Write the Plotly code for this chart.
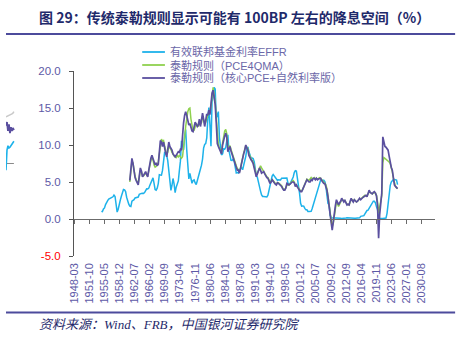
import pandas as pd
import plotly.graph_objects as go

# ---------------- data (quarterly, %) ----------------
EFFR_START = "1954Q3"
effr = [
    1.03, 0.99,
    1.35, 1.50, 1.94, 2.36,
    2.48, 2.69, 2.81, 2.93,
    2.93, 3.00, 3.24, 3.05,
    1.86, 0.94, 1.32, 2.16,
    2.57, 3.08, 3.58, 3.99,
    3.93, 3.70, 2.94, 2.30,
    2.00, 1.73, 1.68, 2.40,
    2.46, 2.61, 2.85, 2.92,
    2.97, 2.96, 3.33, 3.45,
    3.46, 3.49, 3.46, 3.58,
    3.97, 4.08, 4.07, 4.17,
    4.56, 4.91, 5.41, 5.56,
    4.82, 3.99, 3.89, 4.17,
    4.79, 5.98, 5.94, 5.92,
    6.57, 8.33, 8.98, 8.94,
    8.57, 7.88, 6.70, 5.57,
    3.86, 4.56, 5.47, 4.75,
    3.55, 4.30, 4.74, 5.14,
    6.54, 7.82, 10.56, 10.00,
    9.32, 11.25, 12.09, 9.35,
    6.30, 5.42, 6.16, 5.41,
    4.83, 5.20, 5.28, 4.87,
    4.66, 5.16, 5.82, 6.51,
    6.76, 7.28, 8.10, 9.58,
    10.07, 10.18, 10.95, 13.58,
    15.05, 12.69, 9.84, 15.85,
    16.57, 17.78, 17.58, 13.59,
    14.23, 14.51, 11.01, 9.29,
    8.65, 8.80, 9.46, 9.43,
    9.69, 10.56, 11.39, 9.27,
    8.48, 7.92, 7.90, 8.10,
    7.83, 6.92, 6.21, 6.27,
    6.22, 6.65, 6.84, 6.92,
    6.66, 7.16, 7.98, 8.47,
    9.44, 9.73, 9.08, 8.61,
    8.25, 8.24, 8.16, 7.74,
    6.43, 5.86, 5.64, 4.82,
    4.02, 3.77, 3.26, 3.04,
    3.04, 3.00, 3.06, 2.99,
    3.21, 3.94, 4.49, 5.17,
    5.81, 6.02, 5.80, 5.72,
    5.36, 5.24, 5.31, 5.28,
    5.28, 5.52, 5.53, 5.51,
    5.52, 5.50, 5.53, 4.86,
    4.73, 4.75, 5.09, 5.31,
    5.68, 6.27, 6.52, 6.47,
    5.59, 4.33, 3.50, 2.13,
    1.73, 1.75, 1.74, 1.44,
    1.25, 1.25, 1.02, 1.00,
    1.00, 1.03, 1.43, 1.95,
    2.47, 2.94, 3.46, 3.98,
    4.46, 4.91, 5.25, 5.25,
    5.26, 5.25, 5.07, 4.50,
    3.18, 2.09, 1.94, 0.51,
    0.18, 0.18, 0.16, 0.12,
    0.13, 0.19, 0.19, 0.19,
    0.16, 0.09, 0.08, 0.07,
    0.10, 0.15, 0.14, 0.16,
    0.14, 0.12, 0.08, 0.09,
    0.07, 0.09, 0.09, 0.10,
    0.11, 0.13, 0.13, 0.16,
    0.36, 0.37, 0.39, 0.45,
    0.70, 0.95, 1.15, 1.20,
    1.45, 1.74, 1.92, 2.22,
    2.40, 2.40, 2.19, 1.64,
    1.26, 0.06, 0.09, 0.09,
    0.08, 0.07, 0.09, 0.08,
    0.12, 0.77, 2.19, 3.65,
    4.52, 4.99, 5.26, 5.33,
    5.33, 5.33, 5.26, 4.65,
]

TAYLOR_START = "1961Q2"
taylor_pce4qma = [
    5.0, 6.3, 7.8,
    7.6, 6.4, 5.8, 5.3,
    5.0, 4.8, 5.6, 6.6,
    6.4, 5.9, 5.8, 6.1,
    6.2, 6.0, 5.9, 6.5,
    7.4, 7.9, 8.3, 8.0,
    7.3, 7.0, 7.1, 7.3,
    7.7, 9.0, 10.2, 10.8,
    10.5, 10.6, 9.9, 9.2,
    8.7, 9.0, 9.9, 9.6,
    9.4, 9.0, 8.7, 8.5,
    8.4, 8.3, 8.6, 8.4,
    8.6, 8.3, 8.2, 8.4,
    9.5, 11.0, 12.5, 13.8,
    14.5, 14.9, 15.0, 13.5,
    12.3, 11.9, 12.0, 12.6,
    12.9, 12.7, 12.5, 13.0,
    12.8, 13.0, 13.8, 13.4,
    12.9, 13.1, 13.7, 14.1,
    14.5, 14.5, 15.2, 16.5,
    17.8, 16.8, 15.8, 13.8,
    11.0, 10.1, 9.6, 9.3,
    9.0, 10.3, 11.4, 11.9,
    12.1, 11.5, 9.6, 9.7,
    9.9, 9.4, 8.9, 8.5,
    8.1, 7.6, 7.2, 6.8,
    6.7, 6.4, 6.8, 7.6,
    8.4, 8.9, 9.4, 9.9,
    9.7, 9.5, 8.8, 8.4,
    8.1, 7.9, 7.7, 7.2,
    6.6, 6.0, 6.2, 6.6,
    7.0, 7.2, 6.9, 6.5,
    6.4, 6.2, 5.9, 5.7,
    5.6, 5.3, 5.0, 5.1,
    5.3, 5.2, 4.9, 4.8,
    4.7, 4.9, 4.9, 4.8,
    4.7, 4.5, 4.2, 4.0,
    4.0, 4.2, 4.6, 4.6,
    4.6, 4.8, 5.0, 5.1,
    5.2, 5.0, 4.6, 4.6,
    4.4, 4.1, 4.0, 3.8,
    3.8, 4.0, 4.3, 4.6,
    5.0, 5.4, 5.3, 5.2,
    5.4, 5.6, 5.4, 5.5,
    5.6, 5.4, 5.5, 5.4,
    5.5, 5.6, 5.5, 5.3,
    5.1, 4.9, 4.8, 4.6,
    4.1, 3.3, 2.0, 0.9,
    -0.3, -1.0, -0.6, 0.5,
    1.6, 2.3, 2.1, 1.7,
    2.0, 2.3, 2.6, 2.6,
    2.4, 2.5, 2.3, 2.0,
    2.0, 1.9, 2.3, 2.6,
    2.6, 2.4, 2.6, 2.5,
    2.3, 2.4, 2.6, 2.7,
    2.7, 2.8, 2.9, 3.0,
    3.2, 3.1, 3.1, 3.4,
    3.7, 3.6, 3.5, 3.4,
    3.5, 3.6, 3.5, 3.2,
    2.3, 0.8, 1.6, 2.4,
    3.2, 7.6, 8.3, 8.2,
    8.1, 8.0, 7.9, 7.7,
    7.5, 7.0, 6.4, 5.5,
    4.8, 4.4, 4.2, 4.1,
]

taylor_core_pce = [
    5.2, 6.5, 8.2,
    7.5, 6.2, 5.6, 5.2,
    4.9, 4.6, 5.8, 6.9,
    6.5, 5.7, 5.9, 6.2,
    6.4, 6.0, 5.7, 6.6,
    7.7, 8.2, 8.6, 8.2,
    7.6, 7.3, 7.6, 7.2,
    7.4, 9.2, 10.6, 10.4,
    9.8, 10.4, 9.5, 8.9,
    8.4, 9.2, 10.4, 9.8,
    9.6, 9.3, 8.8, 8.6,
    8.4, 8.6, 9.0, 9.1,
    9.0, 9.4, 9.3, 11.5,
    13.0, 14.0, 14.5, 14.0,
    13.2, 12.7, 12.9, 12.2,
    11.9, 11.8, 12.4, 13.1,
    12.8, 12.5, 12.7, 13.5,
    12.5, 13.2, 14.3, 13.5,
    12.5, 13.3, 14.2, 14.0,
    14.7, 14.1, 15.5, 17.0,
    17.4, 16.5, 15.5, 13.0,
    10.2, 9.8, 9.5, 9.2,
    8.8, 10.0, 10.9, 11.2,
    11.6, 11.0, 9.1, 9.6,
    9.8, 9.2, 8.7, 8.4,
    8.0, 7.4, 7.0, 6.6,
    6.6, 6.2, 6.9, 7.8,
    8.6, 8.8, 9.3, 10.0,
    9.6, 9.3, 8.6, 8.2,
    8.0, 7.8, 7.5, 6.9,
    6.3, 5.7, 6.1, 6.6,
    6.9, 6.6, 6.2, 6.3,
    6.4, 6.1, 5.8, 5.6,
    5.5, 5.2, 4.8, 5.0,
    5.3, 5.1, 4.8, 4.7,
    4.6, 4.9, 4.8, 4.7,
    4.6, 4.4, 4.1, 3.9,
    3.9, 4.2, 4.8, 4.7,
    4.6, 4.7, 4.9, 5.0,
    5.0, 4.9, 4.4, 4.6,
    4.3, 4.0, 3.9, 3.7,
    3.7, 4.0, 4.4, 4.6,
    5.0, 5.3, 5.1, 5.0,
    5.0, 5.3, 5.2, 5.5,
    5.5, 5.3, 5.5, 5.3,
    5.4, 5.5, 5.5, 5.2,
    5.0, 4.8, 4.8, 4.4,
    3.9, 3.0, 1.6, 0.8,
    -0.5, -1.5, -0.2, 0.8,
    1.8, 2.6, 2.3, 1.9,
    2.2, 2.4, 2.8, 2.6,
    2.3, 2.5, 2.2, 1.9,
    2.0, 1.9, 2.4, 2.8,
    2.5, 2.3, 2.6, 2.4,
    2.3, 2.4, 2.6, 2.8,
    2.6, 2.8, 2.9, 3.0,
    3.1, 3.2, 3.0, 3.4,
    3.9, 3.6, 3.5, 3.4,
    3.6, 3.7, 3.5, 3.1,
    1.8, -2.6, 0.6, 2.6,
    3.5, 11.1, 10.2, 9.8,
    9.7, 9.5, 9.3, 8.5,
    7.5, 7.0, 6.6, 5.5,
    4.6, 4.4, 4.2, 4.1,
]

# neighbouring panel's edge (clipped at the left border)
edge_x = [0, 1, 2, 3, 4, 5, 6, 7, 8]
edge_grey = [13.8, 13.85, 13.9, 14.0, 14.1, 14.15, 14.2, 14.3, 14.5]
edge_purple = [12.6, 13.1, 11.9, 12.8, 11.6, 12.4, 11.9, 12.3, 12.0]
edge_blue = [6.6, 9.3, 9.9, 9.6, 9.7, 9.9, 10.0, 10.3, 10.5]
edge_axis = [7.5, 7.5, 7.5, 7.5, 7.5, 7.5, 7.5, 7.5, 7.5]

X_TICK_LABELS = [
    "1948-03", "1951-10", "1955-05", "1958-12", "1962-07", "1966-02",
    "1969-09", "1973-04", "1976-11", "1980-06", "1984-01", "1987-08",
    "1991-03", "1994-10", "1998-05", "2001-12", "2005-07", "2009-02",
    "2012-09", "2016-04", "2019-11", "2023-06", "2027-01", "2030-08",
]
Y_TICKS = [-5, 0, 5, 10, 15, 20]

SERIES_NAMES = [
    "有效联邦基金利率EFFR",
    "泰勒规则（PCE4QMA）",
    "泰勒规则（核心PCE+自然利率版）",
]

# ---------------- styling ----------------
BLUE = "#1db2ea"
GREEN = "#8fd14f"
PURPLE = "#5a4f9f"
SERIES_COLORS = [BLUE, GREEN, PURPLE]
TICK_COLOR = "#5d59a6"
LEGEND_TEXT = "#6b67a8"
NAVY = "#1f2a6b"
RULE = "#4c4b9c"
AXIS = "#6b6b6b"

W, H = 464, 340
PLOT_L, PLOT_R, PLOT_T, PLOT_B = 69, 435, 71, 256


def quarter_dates(start, n):
    p = pd.period_range(start=start, periods=n, freq="Q")
    return list(p.to_timestamp(how="start") + pd.Timedelta(days=45))


def py(pix):
    """pixel row -> paper y"""
    return (PLOT_B - pix) / (PLOT_B - PLOT_T)


effr_dates = quarter_dates(EFFR_START, len(effr))
tay_dates = quarter_dates(TAYLOR_START, len(taylor_core_pce))
tay_dates_g = quarter_dates(TAYLOR_START, len(taylor_pce4qma))

tickvals = [pd.Timestamp(s + "-01") for s in X_TICK_LABELS]
ytext = [
    (f'<span style="color:#ff0000">{v:.1f}</span>' if v < 0 else f"{v:.1f}")
    for v in Y_TICKS
]

fig = go.Figure()
fig.add_trace(go.Scatter(
    x=effr_dates, y=effr, name=SERIES_NAMES[0], mode="lines",
    line=dict(color=BLUE, width=1.5), xaxis="x", yaxis="y",
))
fig.add_trace(go.Scatter(
    x=tay_dates_g, y=taylor_pce4qma, name=SERIES_NAMES[1], mode="lines",
    line=dict(color=GREEN, width=1.5), xaxis="x", yaxis="y",
))
fig.add_trace(go.Scatter(
    x=tay_dates, y=taylor_core_pce, name=SERIES_NAMES[2], mode="lines",
    line=dict(color=PURPLE, width=1.7), xaxis="x2", yaxis="y",
))

for vals, col, wd in [
    (edge_grey, "#c9c9c9", 1.5),
    (edge_axis, "#8a8a8a", 1.2),
    (edge_blue, BLUE, 1.6),
    (edge_purple, PURPLE, 1.8),
]:
    fig.add_trace(go.Scatter(
        x=edge_x, y=vals, mode="lines", line=dict(color=col, width=wd),
        xaxis="x3", yaxis="y", hoverinfo="skip",
    ))

# legend block: short line sample + label per series
legend_shapes, legend_notes = [], []
for i, (name, col) in enumerate(zip(SERIES_NAMES, SERIES_COLORS)):
    row = py(52 + 13 * i)
    legend_shapes.append(dict(
        type="line", xref="paper", yref="paper",
        x0=138 / W, x1=161 / W, y0=row, y1=row,
        line=dict(color=col, width=1.8),
    ))
    legend_notes.append(dict(
        text=name, xref="paper", yref="paper", x=164 / W, y=row,
        xanchor="left", yanchor="middle", showarrow=False,
        font=dict(size=11, color=LEGEND_TEXT,
                  family="Liberation Sans, Noto Sans CJK SC, sans-serif"),
    ))

dom = [PLOT_L / W, PLOT_R / W]
x_range = ["1948-03-01", "2033-11-01"]

fig.update_layout(
    width=W, height=H,
    margin=dict(l=0, r=0, t=PLOT_T, b=H - PLOT_B, pad=0),
    paper_bgcolor="white", plot_bgcolor="white",
    font=dict(family="Liberation Sans, Noto Sans CJK SC, sans-serif"),
    showlegend=False,
    xaxis=dict(
        domain=dom, type="date", range=x_range,
        tickmode="array", tickvals=tickvals, ticktext=X_TICK_LABELS,
        tickangle=-90, tickfont=dict(size=11, color=TICK_COLOR),
        showline=False, ticks="", showgrid=False, zeroline=False,
        ticklabelstandoff=4,
    ),
    xaxis2=dict(
        overlaying="x", matches="x", anchor="free", position=py(219),
        type="date", range=x_range,
        showline=True, linecolor=AXIS, linewidth=1.3,
        ticks="outside", ticklen=4, tickwidth=1.2, tickcolor=AXIS,
        tickmode="array", tickvals=tickvals, showticklabels=False,
        showgrid=False, zeroline=False,
    ),
    xaxis3=dict(
        domain=[0, 10 / W], range=[0, 10], visible=False, anchor="y",
    ),
    yaxis=dict(
        domain=[0, 1], range=[-5, 20], anchor="x",
        tickmode="array", tickvals=Y_TICKS, ticktext=ytext,
        tickfont=dict(size=11.5, color=TICK_COLOR),
        showline=True, linecolor="#555555", linewidth=1.3,
        ticks="outside", ticklen=4, tickwidth=1.2, tickcolor="#555555",
        showgrid=False, zeroline=False, ticklabelstandoff=6,
    ),
    annotations=[
        dict(
            text="<b>图 29：传统泰勒规则显示可能有 100BP 左右的降息空间（%）</b>",
            xref="paper", yref="paper", x=31 / W, y=py(17),
            xanchor="left", yanchor="middle", showarrow=False,
            font=dict(size=14, color=NAVY, family="Noto Sans CJK SC"),
        ),
        dict(
            text="<i>资料来源：Wind、FRB，中国银河证券研究院</i>",
            xref="paper", yref="paper", x=31 / W, y=py(324),
            xanchor="left", yanchor="middle", showarrow=False,
            font=dict(size=13, color=NAVY,
                      family="Liberation Serif, Noto Sans CJK SC, serif"),
        ),
    ] + legend_notes,
    shapes=[
        dict(type="line", xref="paper", yref="paper", x0=0, x1=455 / W,
             y0=py(34), y1=py(34), line=dict(color=RULE, width=2)),
        dict(type="line", xref="paper", yref="paper", x0=0, x1=455 / W,
             y0=py(312.5), y1=py(312.5), line=dict(color=RULE, width=2)),
    ] + legend_shapes,
)

fig.write_html("out.html")
